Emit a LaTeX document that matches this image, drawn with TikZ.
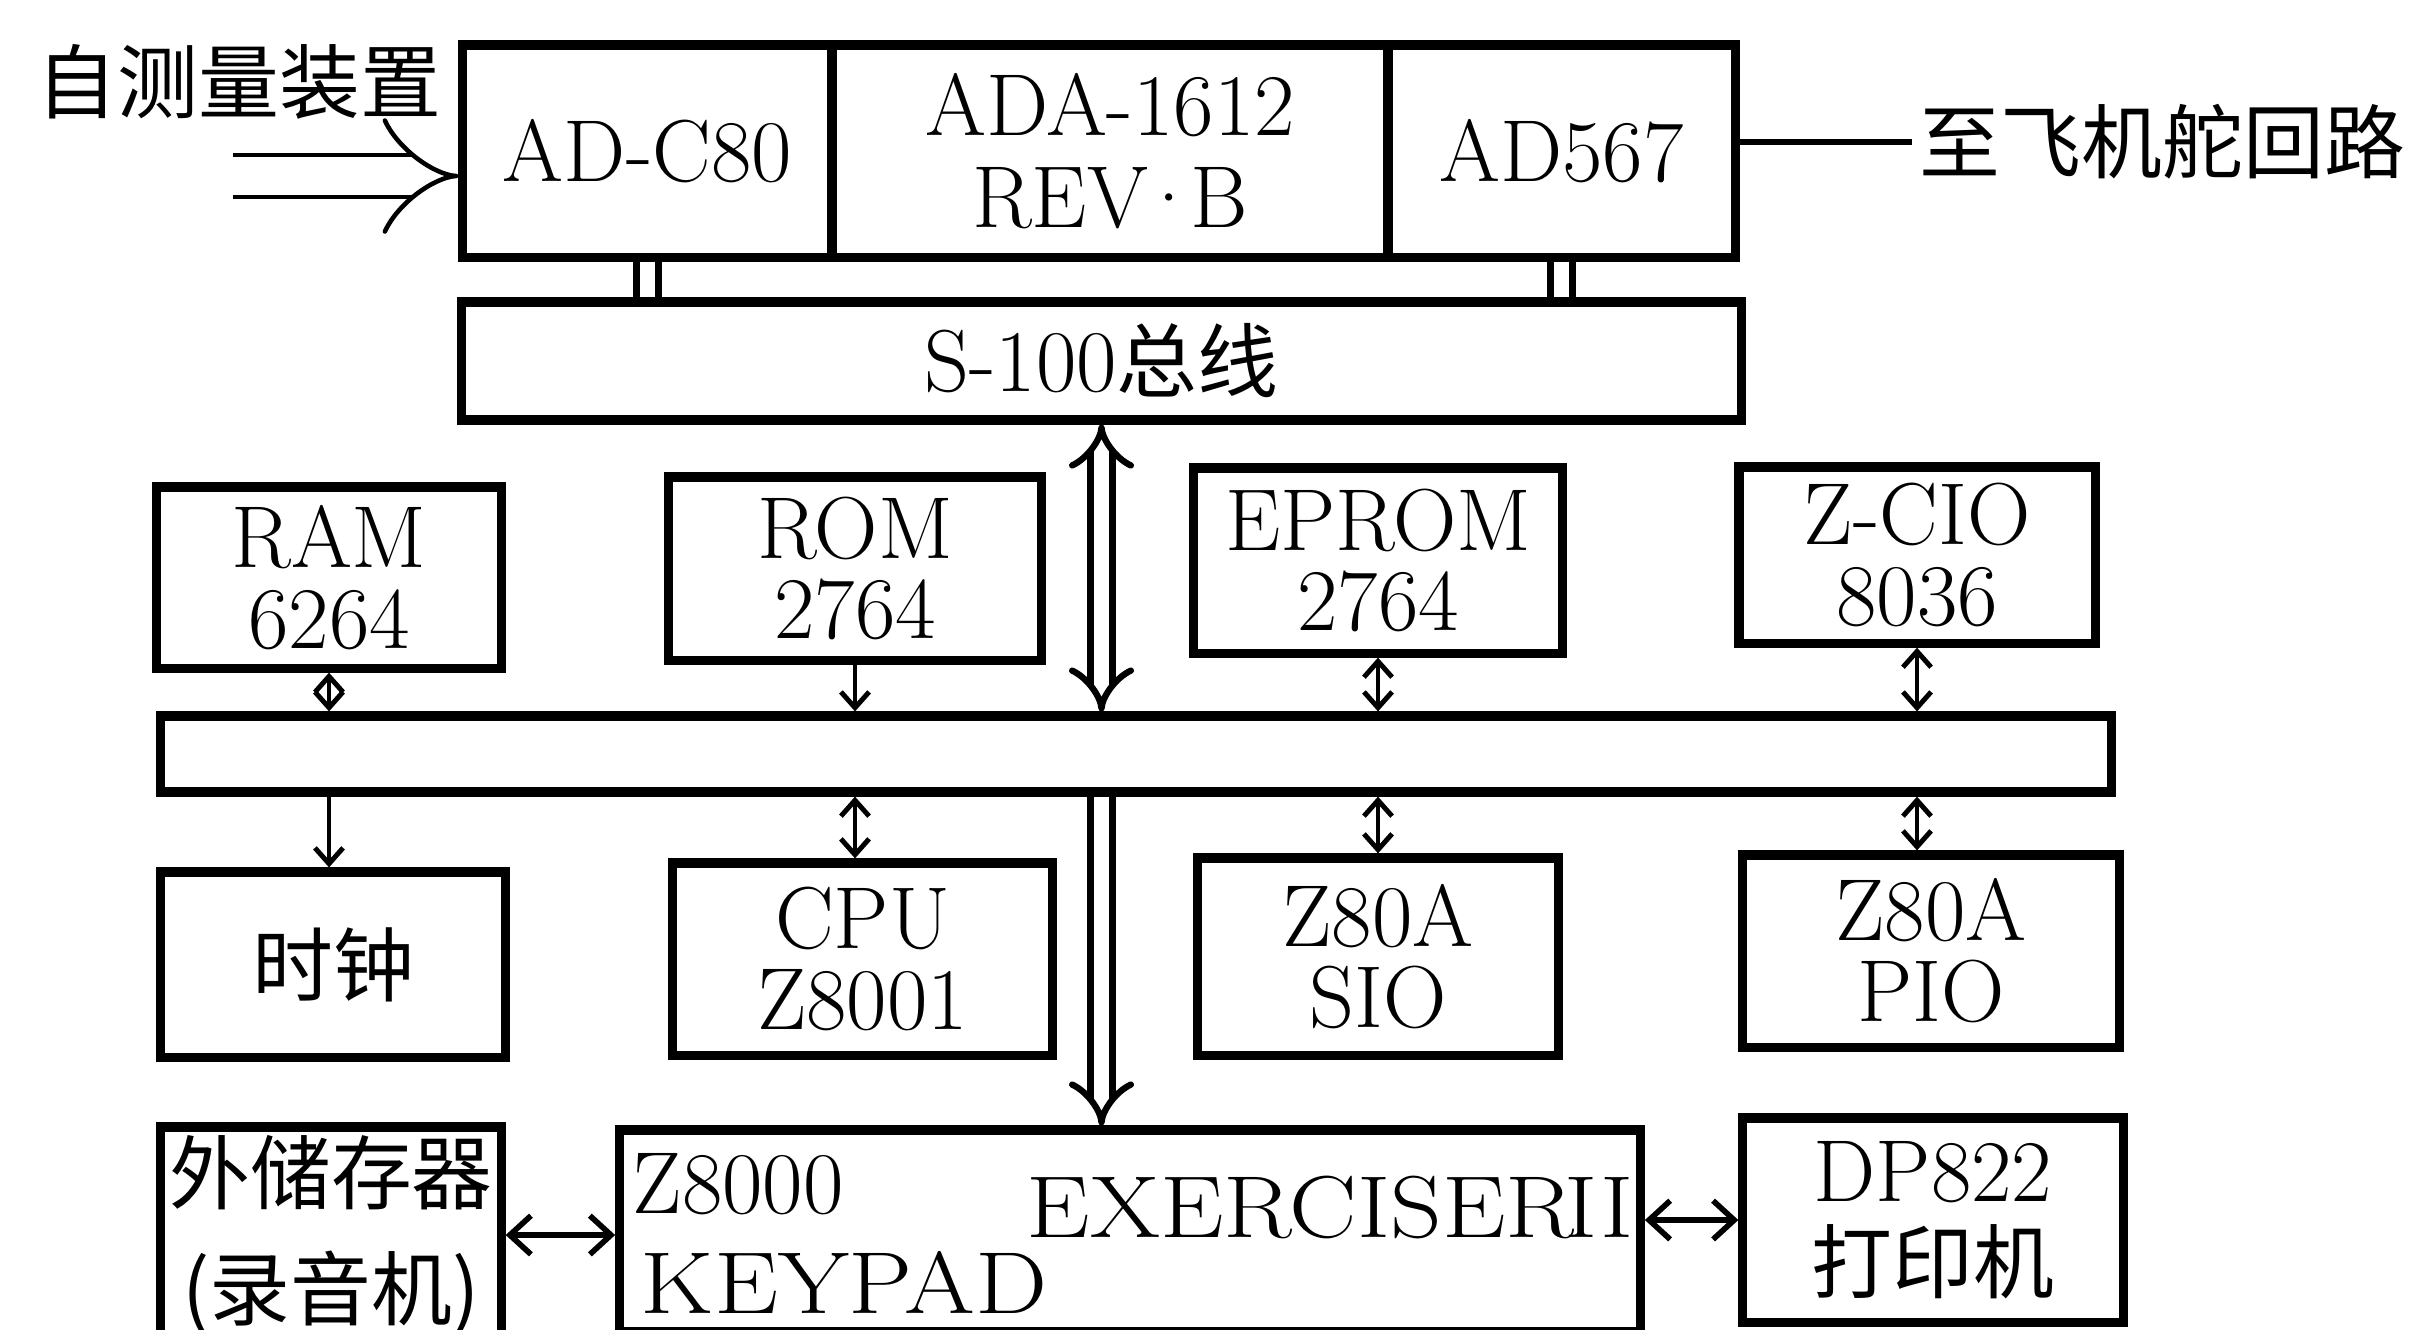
\documentclass[tikz,border=0pt]{standalone}
\usepackage{fontspec}
\newfontfamily\cjk{Noto Sans CJK SC}
\usetikzlibrary{arrows.meta}

\begin{document}
\begin{tikzpicture}[x=0.01cm, y=-0.01cm,
  font=\fontsize{25}{23}\selectfont,
  unit/.style={draw, line width=2.6pt, inner sep=0pt, align=center},
  cn/.style={font=\cjk\fontsize{23}{27}\selectfont, inner sep=2pt},
  wire/.style={line width=1.6pt,
    {Straight Barb[length=6pt,width=11pt]}-{Straight Barb[length=6pt,width=11pt]}},
  tap/.style={line width=1.4pt,
    {Straight Barb[length=4.5pt,width=8pt]}-{Straight Barb[length=4.5pt,width=8pt]}},
  tap1/.style={line width=1.4pt, -{Straight Barb[length=4.5pt,width=8pt]}},
  pipe/.style={double, line width=1.8pt, double distance=4.5pt},
  feed/.style={double, line width=1.3pt, double distance=10.6pt, -{Implies[length=15pt,width=20pt]}}]
  \path[fill=white, use as bounding box] (0,0) rectangle (2416,1329);

  % A/D - D/A boards
  \node[unit, minimum width=3.69cm, minimum height=2.12cm] (adc) at (647.5,151) {AD-C80};
  \node[unit, minimum width=5.56cm, minimum height=2.12cm] (ada) at (1110,151) {ADA-1612\\[3pt]REV\kern-0.12em\textperiodcentered\kern-0.12em B};
  \node[unit, minimum width=3.47cm, minimum height=2.12cm] (adb) at (1561.5,151) {AD567};
  \node[unit, minimum width=12.79cm, minimum height=1.18cm] (s100) at (1101.5,361) {S-100{\cjk\fontsize{23}{26}\selectfont 总线}};

  \node[cn] (srclbl) at (239,82) {自测量装置};
  \coordinate (src) at (233,176);
  \node[cn, anchor=west] (dst) at (1912,142) {至飞机舵回路};

  % memory and i/o chips
  \node[unit, minimum width=3.44cm, minimum height=1.81cm] (ram) at (329,577.5) {RAM\\6264};
  \node[unit, minimum width=3.72cm, minimum height=1.83cm] (rom) at (855,568.5) {ROM\\2764};
  \node[unit, minimum width=3.68cm, minimum height=1.85cm] (eprom) at (1378,560.5) {EPROM\\2764};
  \node[unit, minimum width=3.56cm, minimum height=1.76cm] (zcio) at (1917,555) {Z-CIO\\8036};

  \node[unit, minimum width=19.50cm, minimum height=0.76cm] (bus) at (1136,754) {};

  \node[unit, minimum width=3.44cm, minimum height=1.85cm, cn] (clock) at (333,964.5) {时钟};
  \node[unit, minimum width=3.79cm, minimum height=1.92cm] (cpu) at (862.5,959) {CPU\\Z8001};
  \node[unit, minimum width=3.60cm, minimum height=1.97cm] (sio) at (1378,956.5) {Z80A\\SIO};
  \node[unit, minimum width=3.76cm, minimum height=1.92cm] (pio) at (1931,951) {Z80A\\PIO};

  % exerciser and peripherals
  \node[unit, minimum width=3.40cm, minimum height=2.16cm, cn, inner sep=0pt] (store) at (331,1235) {外储存器\\[6pt](录音机)};
  \node[unit, minimum width=10.20cm, minimum height=2.01cm] (exer) at (1130,1230.5) {};
  \node[anchor=base west, inner sep=0pt] (exa) at (632,1213) {Z8000};
  \node[anchor=base west, inner sep=0pt] (exb) at (640,1313) {\scalebox{1.16}[1]{KEYPAD}};
  \node[anchor=base east, inner sep=0pt] (exc) at (1634,1237) {\scalebox{1.15}[1]{EXERCISER\kern-0.1em II}};
  \node[unit, minimum width=3.80cm, minimum height=2.04cm] (dp) at (1933,1220) {DP822\\[3pt]{\cjk\fontsize{23}{27}\selectfont 打印机}};

  % connections
  \draw[feed] (src) -- (src -| adc.west);
  \draw[line width=1.6pt] (dst.west -| adb.east) -- (dst.west);
  \draw[pipe] (adc.south) -- (adc.south |- s100.north);
  \draw[pipe] (adb.south) -- (adb.south |- s100.north);
  \draw[pipe, {Implies[length=10pt,width=17pt]}-{Implies[length=10pt,width=17pt]}] (s100.south) -- (s100.south |- bus.north);
  \draw[pipe, -{Implies[length=10pt,width=17pt]}] (s100.south |- bus.south) -- (s100.south |- exer.north);

  \draw[tap] (ram.south) -- (ram.south |- bus.north);
  \draw[tap1] (bus.south -| ram.south) -- (ram.south |- clock.north);
  \draw[tap1] (rom.south) -- (rom.south |- bus.north);
  \draw[tap] (bus.south -| rom.south) -- (rom.south |- cpu.north);
  \draw[tap] (eprom.south) -- (eprom.south |- bus.north);
  \draw[tap] (bus.south -| eprom.south) -- (eprom.south |- sio.north);
  \draw[tap] (zcio.south) -- (zcio.south |- bus.north);
  \draw[tap] (bus.south -| zcio.south) -- (zcio.south |- pio.north);

  \draw[wire] (store.east) -- (store.east -| exer.west);
  \draw[wire] (exer.east |- dp.west) -- (dp.west);
\end{tikzpicture}
\end{document}
